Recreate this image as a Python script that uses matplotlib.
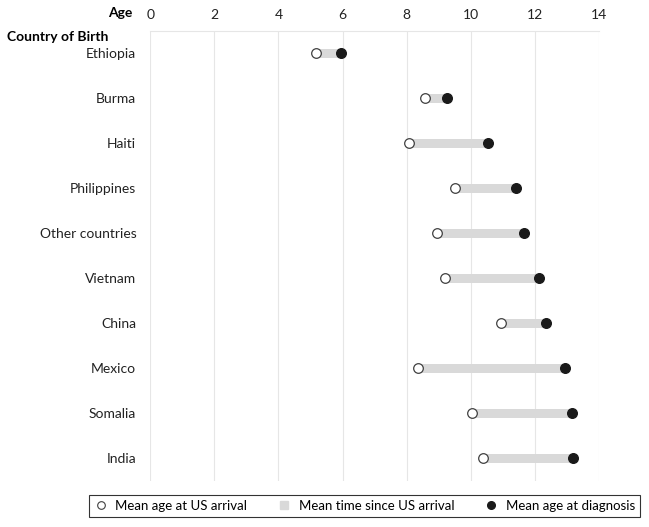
import matplotlib.pyplot as plt
from matplotlib.lines import Line2D

plt.rcParams['font.family'] = ['Lato', 'DejaVu Sans']

countries = ['Ethiopia', 'Burma', 'Haiti', 'Philippines', 'Other countries',
             'Vietnam', 'China', 'Mexico', 'Somalia', 'India']
age_arrival = [5.17, 8.58, 8.08, 9.49, 8.93, 9.19, 10.94, 8.36, 10.04, 10.36]
age_diagnosis = [5.94, 9.24, 10.53, 11.40, 11.65, 12.11, 12.34, 12.94, 13.15, 13.17]

fig = plt.figure(figsize=(6.49, 5.27), dpi=100)
ax = fig.add_axes([0.2314, 0.0873, 0.692, 0.8539])

y = list(range(len(countries)))
widths = [d - a for a, d in zip(age_arrival, age_diagnosis)]
ax.barh(y, widths, left=age_arrival, height=0.2, color='#d9d9d9', zorder=2)
ax.scatter(age_arrival, y, s=48, facecolor='white', edgecolor='#404040',
           linewidth=0.9, zorder=3)
ax.scatter(age_diagnosis, y, s=48, color='#1a1a1a', zorder=3)

ax.set_xlim(0, 14)
ax.set_ylim(len(countries) - 0.5, -0.5)
ax.set_xticks(range(0, 15, 2))
ax.set_yticks(y)
ax.set_yticklabels(countries)
ax.xaxis.tick_top()
ax.tick_params(axis='both', length=0, labelsize=10, colors='#222222')
ax.tick_params(axis='y', pad=10)
ax.tick_params(axis='x', pad=7)
ax.grid(axis='x', color='#e6e6e6', linewidth=0.8, zorder=0)
for s in ['left', 'right', 'bottom']:
    ax.spines[s].set_visible(False)
ax.spines['top'].set_color('#e6e6e6')
ax.spines['top'].set_linewidth(0.8)

fig.text(0.2034, 0.975, 'Age', fontsize=10, fontweight='bold', ha='right', va='center')
fig.text(0.011, 0.929, 'Country of Birth', fontsize=10, fontweight='bold',
         ha='left', va='center')

handles = [
    Line2D([], [], marker='o', linestyle='none', markersize=5.5,
           markerfacecolor='white', markeredgecolor='#404040', markeredgewidth=0.8),
    Line2D([], [], marker='s', linestyle='none', markersize=5.5,
           markerfacecolor='#d9d9d9', markeredgecolor='#d9d9d9'),
    Line2D([], [], marker='o', linestyle='none', markersize=5.5,
           markerfacecolor='#1a1a1a', markeredgecolor='#1a1a1a'),
]
labels = ['Mean age at US arrival', 'Mean time since US arrival', 'Mean age at diagnosis']
leg = fig.legend(handles, labels, loc='center', bbox_to_anchor=(0.5616, 0.0398),
                 ncol=3, frameon=True, fancybox=False, fontsize=9.5,
                 handlelength=1.0, handletextpad=0.6, columnspacing=2.3,
                 borderpad=0.35, borderaxespad=0)
leg.get_frame().set_edgecolor('black')
leg.get_frame().set_linewidth(0.8)

fig.savefig('out.png', dpi=100)
